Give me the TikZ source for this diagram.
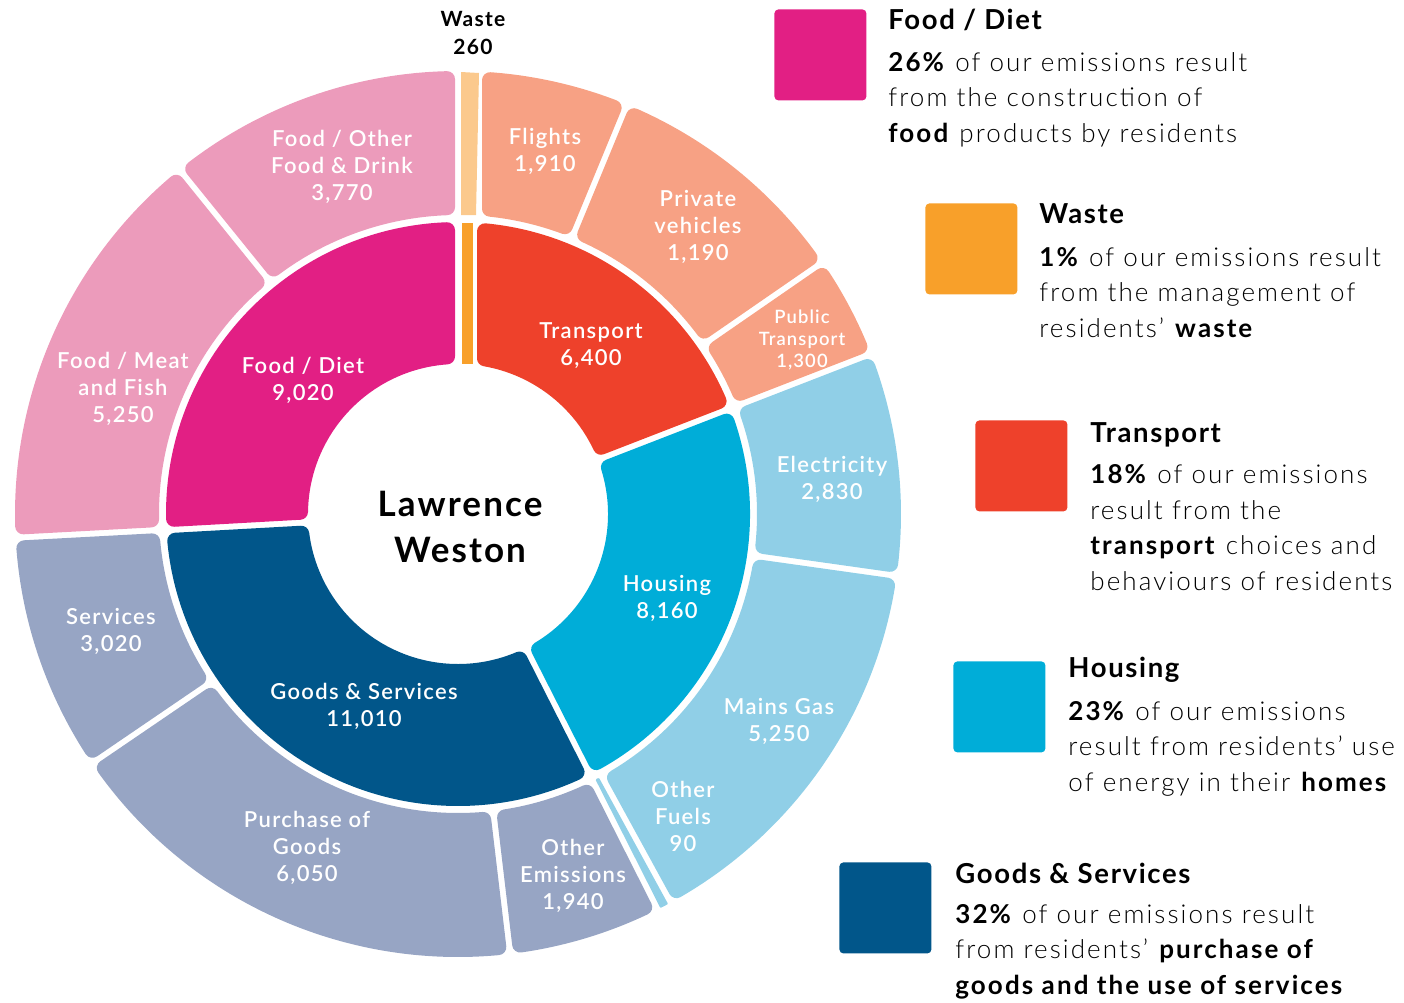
\documentclass[tikz,border=0pt]{standalone}
\usepackage{fontspec}
\setmainfont{Lato}[LetterSpace=6]
\newfontfamily\chartfont{Lato}[UprightFont=* Semibold,BoldFont=* Bold,LetterSpace=6]
\newfontfamily\bodyfont{Lato}[UprightFont=* Light,BoldFont=* Bold,LetterSpace=8]

\definecolor{foodD}{HTML}{E21F84}
\definecolor{foodL}{HTML}{EC9BBB}
\definecolor{wasteD}{HTML}{F8A02A}
\definecolor{wasteL}{HTML}{FBC98D}
\definecolor{transD}{HTML}{EE412B}
\definecolor{transL}{HTML}{F7A184}
\definecolor{houseD}{HTML}{00ADD8}
\definecolor{houseL}{HTML}{90CFE7}
\definecolor{goodsD}{HTML}{01568A}
\definecolor{goodsL}{HTML}{97A5C4}

% ring piece: [corner] start, start gap, end, end gap, inner r, outer r, colour
% angles clockwise from the top
\newcommand{\ringpart}[8][8]{%
  \pgfmathsetmacro{\rIn}{#6+#1}
  \pgfmathsetmacro{\rOut}{#7-#1}
  \pgfmathsetmacro{\aIn}{#2-90+asin((#3+#1)/\rIn)}
  \pgfmathsetmacro{\aOut}{#2-90+asin((#3+#1)/\rOut)}
  \pgfmathsetmacro{\bIn}{#4-90-asin((#5+#1)/\rIn)}
  \pgfmathsetmacro{\bOut}{#4-90-asin((#5+#1)/\rOut)}
  \filldraw[fill=#8,draw=#8,line width=#1*1bp,line join=round]
    (\aIn:\rIn) -- (\aOut:\rOut) arc[start angle=\aOut,end angle=\bOut,radius=\rOut]
    -- (\bIn:\rIn) arc[start angle=\bIn,end angle=\aIn,radius=\rIn] -- cycle;
}

\begin{document}
\begin{tikzpicture}[x=0.5bp,y=-0.5bp,
  lbl/.style={text=white,align=center,inner sep=0,font=\chartfont\fontsize{11bp}{13.5bp}\selectfont},
  legsq/.style={anchor=north west,minimum width=46bp,minimum height=45.5bp,inner sep=0,rounded corners=2bp},
  leghead/.style={anchor=base west,inner sep=0,font=\bfseries\fontsize{13.75bp}{16bp}\selectfont},
  legtext/.style={anchor=base west,align=left,inner sep=0,font=\bodyfont\fontsize{13bp}{17.75bp}\selectfont}]
\useasboundingbox (0,0) rectangle (1404,1002);

\begin{scope}[shift={(458,514)}]
% inner ring
\ringpart{266.82}{3}{360}{3}{150}{292}{foodD}
\ringpart{0}{19}{68.8}{3}{150}{292}{transD}
\ringpart{68.8}{3}{153.1}{3}{150}{292}{houseD}
\ringpart{153.1}{3}{266.82}{3}{150}{292}{goodsD}
% outer ring
\foreach \a/\b/\col in {321.05/360/foodL, 22.42/55.37/transL, 55.37/68.8/transL,
    68.8/98.03/houseL, 98.03/151.3/houseL, 153.2/173.23/goodsL,
    173.23/235.73/goodsL, 235.73/266.93/goodsL, 266.93/321.05/foodL}
  {\ringpart{\a}{3}{\b}{3}{299}{443}{\col}}
\ringpart{0}{24}{22.42}{3}{299}{443}{transL}
\ringpart[1]{151.3}{3}{153.2}{3}{299}{443}{houseL}
\end{scope}
% waste slivers
\fill[wasteD] (462,223) rectangle (473,364);
\fill[wasteL] (461,72) -- (479,73) -- (476,215) -- (461,215) -- cycle;

% labels
\node[inner sep=0,align=center,font=\bfseries\fontsize{10.5bp}{14bp}\selectfont] (wasteTop) at (473,33) {Waste\\260};
\node[lbl] (foodOther) at (342,167) {Food / Other\\Food \& Drink\\3,770};
\node[lbl] (foodMeat) at (123,389) {Food / Meat\\and Fish\\5,250};
\node[lbl] (flights) at (545,151) {Flights\\1,910};
\node[lbl] (privVeh) at (698,227) {Private\\vehicles\\1,190};
\node[lbl,font=\chartfont\fontsize{9.2bp}{11bp}\selectfont] (pubTrans) at (802,340) {Public\\Transport\\1,300};
\node[lbl] (elec) at (832,479) {Electricity\\2,830};
\node[lbl] (gas) at (779,721) {Mains Gas\\5,250};
\node[lbl] (othFuel) at (683,816) {Other\\Fuels\\90};
\node[lbl] (othEm) at (573,876) {Other\\Emissions\\1,940};
\node[lbl] (purch) at (307,848) {Purchase of\\Goods\\6,050};
\node[lbl] (serv) at (111,631) {Services\\3,020};
\node[lbl] (foodIn) at (303,380) {Food / Diet\\9,020};
\node[lbl] (transIn) at (591,346) {Transport\\6,400};
\node[lbl] (houseIn) at (667,598) {Housing\\8,160};
\node[lbl] (goodsIn) at (364,706) {Goods \& Services\\11,010};
\node[inner sep=0,align=center,font=\bfseries\fontsize{17.5bp}{22.8bp}\selectfont] (centre) at (460,527) {Lawrence\\Weston};

% legend (text nodes sit on the baseline of their last line)
\node[legsq,fill=foodD] (sqFood) at (774,9) {};
\node[leghead] (hFood) at (888,29) {Food / Diet};
\node[legtext] (tFood) at (888,142) {\textbf{26\%} of our emissions result\\from the construction of\\\textbf{food} products by residents};

\node[legsq,fill=wasteD] (sqWaste) at (925,203) {};
\node[leghead] (hWaste) at (1039,223) {Waste};
\node[legtext] (tWaste) at (1039,337) {\textbf{1\%} of our emissions result\\from the management of\\residents’ \textbf{waste}};

\node[legsq,fill=transD] (sqTrans) at (975,420) {};
\node[leghead] (hTrans) at (1090,442) {Transport};
\node[legtext] (tTrans) at (1090,590) {\textbf{18\%} of our emissions\\result from the\\\textbf{transport} choices and\\behaviours of residents};

\node[legsq,fill=houseD] (sqHouse) at (953,661) {};
\node[leghead] (hHouse) at (1068,677) {Housing};
\node[legtext] (tHouse) at (1068,791) {\textbf{23\%} of our emissions\\result from residents’ use\\of energy in their \textbf{homes}};

\node[legsq,fill=goodsD] (sqGoods) at (839,862) {};
\node[leghead] (hGoods) at (955,883) {Goods \& Services};
\node[legtext] (tGoods) at (955,994) {\textbf{32\%} of our emissions result\\from residents’ \textbf{purchase of}\\\textbf{goods and the use of services}};
\end{tikzpicture}
\end{document}
